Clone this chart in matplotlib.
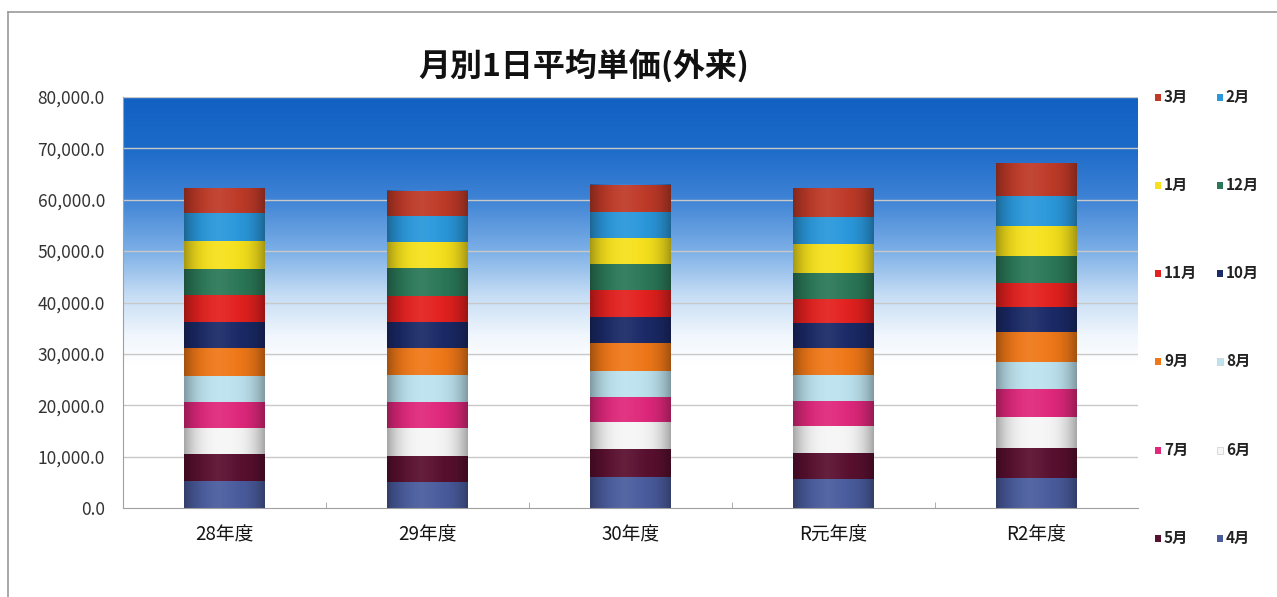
import numpy as np
import matplotlib.pyplot as plt
from matplotlib.colors import LinearSegmentedColormap
from matplotlib.patches import Rectangle
from matplotlib.lines import Line2D
from matplotlib.ticker import FuncFormatter, FixedLocator

plt.rcParams['font.family'] = ['Noto Sans CJK JP', 'DejaVu Sans']

years = ["28年度", "29年度", "30年度", "R元年度", "R2年度"]
months = ["4月", "5月", "6月", "7月", "8月", "9月", "10月", "11月", "12月", "1月", "2月", "3月"]

# daily average unit price per month (outpatient), one list per year, Apr..Mar
fy28 = [5310, 5200, 5000, 5180, 5060, 5330, 5180, 5200, 5000, 5510, 5390, 4870]
fy29 = [5120, 5000, 5390, 5180, 5200, 5200, 5180, 5000, 5390, 5200, 5060, 4870]
fy30 = [5980, 5450, 5260, 4980, 5060, 5330, 5180, 5200, 5000, 5180, 5060, 5200]
fyR1 = [5590, 5180, 5200, 4920, 5000, 5200, 4980, 4550, 5180, 5530, 5370, 5530]
fyR2 = [5780, 5840, 6150, 5330, 5370, 5840, 4870, 4670, 5200, 5840, 5840, 6370]

month_colors = ["#4a5c9e", "#5a1030", "#f6f6f6", "#e0287c", "#bde3ef", "#f07818",
                "#1b2a68", "#e3211f", "#2b7858", "#f6e11c", "#2a98dc", "#bf3a28"]

# legend layout: two columns, rows top to bottom
legend_order = ["3月", "2月", "1月", "12月", "11月", "10月", "9月", "8月", "7月", "6月", "5月", "4月"]

W, H = 1277, 597
fig = plt.figure(figsize=(W / 100, H / 100), dpi=100)
ax = fig.add_axes([123 / W, 1 - 508 / H, (1138 - 123) / W, (508 - 97) / H])

ymax = 80000
ax.set_xlim(-0.5, len(years) - 0.5)
ax.set_ylim(0, ymax)

# sky gradient background
grad_cmap = LinearSegmentedColormap.from_list("sky", [
    (0.0, "#ffffff"), (0.35, "#ffffff"), (0.42, "#f0f6fd"), (0.52, "#c4dcf4"),
    (0.63, "#7aaee6"), (0.76, "#3c81d4"), (0.88, "#1c6ac8"), (1.0, "#1260c2")])
grad = np.linspace(0, 1, 256).reshape(-1, 1)
ax.imshow(grad, extent=[-0.5, len(years) - 0.5, 0, ymax], origin="lower",
          aspect="auto", cmap=grad_cmap, zorder=0)

for v in range(10000, ymax + 1, 10000):
    ax.axhline(v, color="#c8c8c8", lw=1.0, zorder=1)

data = np.array([fy28, fy29, fy30, fyR1, fyR2])
x = np.arange(len(years))
width = 0.395
bottom = np.zeros(len(years))
for j, m in enumerate(months):
    ax.bar(x, data[:, j], width, bottom=bottom, color=month_colors[j],
           edgecolor="none", zorder=2, label=m)
    bottom += data[:, j]

# soft cylinder shading across each bar: darker edges, slightly lighter middle
t = np.linspace(-1, 1, 64)
shade = np.zeros((1, 64, 4))
dark = np.abs(t) ** 3 * 0.32
light = np.clip(1 - np.abs(t + 0.15) * 1.8, 0, 1) * 0.07
shade[0, :, :3] = (light / np.maximum(light + dark, 1e-6))[:, None]
shade[0, :, 3] = light + dark
for xi, total in zip(x, bottom):
    ax.imshow(shade, extent=[xi - width / 2, xi + width / 2, 0, total],
              aspect="auto", zorder=3, interpolation="bilinear")

ax.set_xlim(-0.5, len(years) - 0.5)
ax.set_ylim(0, ymax)

for s in ["top", "right"]:
    ax.spines[s].set_visible(False)
ax.spines["left"].set_color("#a0a0a0")
ax.spines["bottom"].set_color("#a0a0a0")

ax.set_yticks(range(0, ymax + 1, 10000))
ax.yaxis.set_major_formatter(FuncFormatter(lambda v, p: f"{v:,.1f}"))
ax.tick_params(axis="y", length=0, pad=13, labelsize=12.5, labelcolor="#333333")
ax.set_xticks(x)
ax.set_xticklabels(years)
ax.tick_params(axis="x", length=0, pad=12, labelsize=13.5, labelcolor="#151515")
ax.xaxis.set_minor_locator(FixedLocator(x[:-1] + 0.5))
ax.tick_params(axis="x", which="minor", direction="in", length=4, color="#a0a0a0")

fig.text(584 / W, 1 - 66 / H, "月別1日平均単価(外来)", ha="center", va="center",
         fontsize=23, fontweight="bold", color="#111111")

# legend drawn as two columns on the right
col_x = [1155, 1217]
row_y = [97, 185, 273, 361, 450, 538]
for k, lab in enumerate(legend_order):
    r, c = divmod(k, 2)
    col = month_colors[months.index(lab)]
    px, py = col_x[c], row_y[r]
    fig.patches.append(Rectangle((px / W, 1 - (py + 3.5) / H), 6 / W, 7 / H,
                                 transform=fig.transFigure, facecolor=col,
                                 edgecolor="#cccccc" if lab in ("6月", "8月") else "none",
                                 lw=0.5))
    fig.text((px + 9) / W, 1 - py / H, lab, ha="left", va="center",
             fontsize=11, fontweight="bold", color="#222222")

# outer chart frame
fig.add_artist(Line2D([8 / W, 1], [1 - 12 / H, 1 - 12 / H], transform=fig.transFigure,
                      color="#9a9a9a", lw=1.2))
fig.add_artist(Line2D([8 / W, 8 / W], [0, 1 - 12 / H], transform=fig.transFigure,
                      color="#9a9a9a", lw=1.2))

fig.savefig("out.png", dpi=100, facecolor="white")
